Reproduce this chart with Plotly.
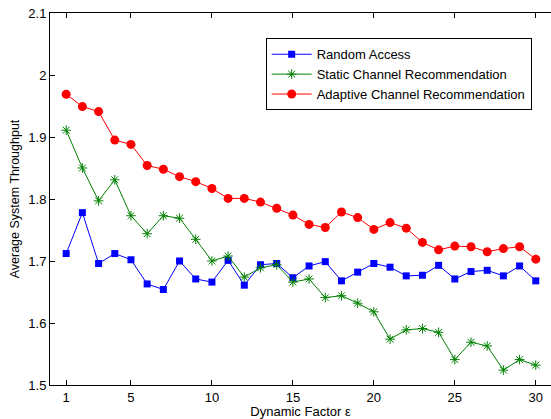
import plotly.graph_objects as go

# Dynamic factor values on the x axis
epsilon = list(range(1, 31))

# Average system throughput per scheme
random_access = [1.712, 1.778, 1.696, 1.712, 1.702, 1.663, 1.654, 1.700, 1.671, 1.666,
                 1.701, 1.661, 1.694, 1.696, 1.673, 1.692, 1.699, 1.668, 1.682, 1.696,
                 1.690, 1.676, 1.677, 1.693, 1.671, 1.683, 1.685, 1.676, 1.692, 1.668]
static_rec = [1.911, 1.850, 1.797, 1.831, 1.773, 1.744, 1.773, 1.769, 1.735, 1.700,
              1.708, 1.674, 1.689, 1.694, 1.666, 1.671, 1.641, 1.644, 1.632, 1.618,
              1.574, 1.589, 1.591, 1.585, 1.541, 1.569, 1.563, 1.524, 1.541, 1.532]
adaptive_rec = [1.969, 1.949, 1.941, 1.895, 1.888, 1.854, 1.848, 1.836, 1.828, 1.817,
                1.801, 1.801, 1.795, 1.785, 1.774, 1.759, 1.754, 1.779, 1.770, 1.751,
                1.762, 1.753, 1.730, 1.718, 1.724, 1.723, 1.715, 1.720, 1.723, 1.703]

x_ticks = [1, 5, 10, 15, 20, 25, 30]
y_ticks = [1.5, 1.6, 1.7, 1.8, 1.9, 2.0, 2.1]
y_tick_text = ["1.5", "1.6", "1.7", "1.8", "1.9", "2", "2.1"]

FONT = "Liberation Sans, Arial, sans-serif"

fig = go.Figure()
fig.add_trace(go.Scatter(
    x=epsilon, y=random_access, name="Random Access", mode="lines+markers",
    line=dict(color="#0000ff", width=1),
    marker=dict(symbol="square", size=7, color="#0000ff"),
))
fig.add_trace(go.Scatter(
    x=epsilon, y=static_rec, name="Static Channel Recommendation", mode="lines+markers",
    line=dict(color="#008000", width=1),
    marker=dict(symbol="asterisk-open", size=8, color="#008000",
                line=dict(color="#008000", width=1)),
))
fig.add_trace(go.Scatter(
    x=epsilon, y=adaptive_rec, name="Adaptive Channel Recommendation", mode="lines+markers",
    line=dict(color="#ff0000", width=1),
    marker=dict(symbol="circle", size=9, color="#ff0000"),
))

fig.update_layout(
    width=551, height=419,
    margin=dict(l=50, r=0, t=13, b=34),
    paper_bgcolor="white", plot_bgcolor="white",
    font=dict(family=FONT, size=13, color="#000000"),
    showlegend=True,
    legend=dict(
        x=0.4305, y=0.932, xanchor="left", yanchor="top",
        bgcolor="white", bordercolor="#000000", borderwidth=1,
        font=dict(family=FONT, size=13, color="#000000"),
        tracegroupgap=0, itemwidth=40,
    ),
    xaxis=dict(
        range=[0, 30.94], tickvals=x_ticks, ticktext=[str(v) for v in x_ticks],
        ticks="inside", ticklen=5, tickcolor="#000000",
        showline=True, linecolor="#000000", linewidth=1, mirror="ticks",
        showgrid=False, zeroline=False,
        title=dict(text="Dynamic Factor ε", standoff=4, font=dict(size=13)),
        tickfont=dict(size=13, color="#000000"),
    ),
    yaxis=dict(
        range=[1.5, 2.1], tickvals=y_ticks, ticktext=y_tick_text,
        ticks="inside", ticklen=5, tickcolor="#000000",
        showline=True, linecolor="#000000", linewidth=1, mirror=False,
        showgrid=False, zeroline=False,
        title=dict(text="Average System Throughput", standoff=5, font=dict(size=12.5)),
        tickfont=dict(size=13, color="#000000"),
    ),
    yaxis2=dict(
        overlaying="y", side="right", range=[1.5, 2.1], tickvals=y_ticks,
        ticks="inside", ticklen=5, tickcolor="#000000",
        showticklabels=False, showline=False, showgrid=False, zeroline=False,
    ),
)

fig.write_html("out.html")
